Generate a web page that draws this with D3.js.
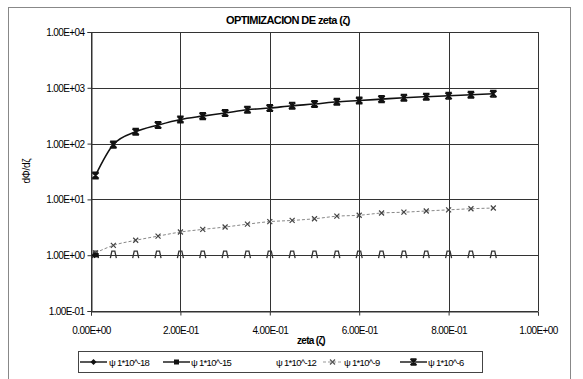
<!DOCTYPE html>
<html>
<head>
<meta charset="utf-8">
<script src="https://cdn.jsdelivr.net/npm/d3@7/dist/d3.min.js"></script>
<style>
  body { margin: 0; background: #fff; }
  svg { display: block; font-family: "Liberation Sans", Arial, sans-serif; }
  text { fill: #000; }
</style>
</head>
<body>
<svg id="chart" width="583" height="379"></svg>
<script>
// zeta values (x) shared by all series
const zeta = [0.01, 0.05, 0.1, 0.15, 0.2, 0.25, 0.3, 0.35, 0.4, 0.45,
              0.5, 0.55, 0.6, 0.65, 0.7, 0.75, 0.8, 0.85, 0.9];

// dPhi/dzeta for each psi
const psi1e6 = [26.8, 96, 163, 215, 271, 311, 353, 405, 434, 478,
                512, 562, 592, 627, 664, 693, 719, 750, 780];
const psi1e9 = [1.1, 1.5, 1.85, 2.2, 2.6, 2.9, 3.2, 3.6, 4.0, 4.2,
                4.5, 5.0, 5.2, 5.7, 5.9, 6.2, 6.5, 6.8, 7.0];
const psi1e12 = [1, 1, 1, 1, 1, 1, 1, 1, 1, 1, 1, 1, 1, 1, 1, 1, 1, 1, 1];
const psi1e15 = [1];
const psi1e18 = [1];

const xTicks = [0, 0.2, 0.4, 0.6, 0.8, 1.0];
const yTicks = [0.1, 1, 10, 100, 1000, 10000];
const seriesNames = ["ψ 1*10^-18", "ψ 1*10^-15", "ψ 1*10^-12", "ψ 1*10^-9", "ψ 1*10^-6"];

const svg = d3.select("#chart");
const plot = { left: 91, right: 538, top: 32, bottom: 311 };

const x = d3.scaleLinear().domain([0, 1]).range([plot.left, plot.right]);
const y = d3.scaleLog().domain([0.1, 10000]).range([plot.bottom, plot.top]);

const fmtE = v => {
  const s = v.toExponential(2).toUpperCase();   // e.g. 1.00E+4
  return s.replace(/E([+-])(\d)$/, "E$10$2");
};

// outer chart frame
svg.append("rect").attr("x", 8.5).attr("y", 7.5).attr("width", 562).attr("height", 380)
  .attr("fill", "none").attr("stroke", "#888").attr("stroke-width", 1);

// title
svg.append("text").attr("x", 288).attr("y", 24).attr("text-anchor", "middle")
  .attr("font-size", 11).attr("font-weight", "bold").attr("letter-spacing", -0.6)
  .text("OPTIMIZACION DE zeta (ζ)");

// gridlines
const grid = svg.append("g").attr("stroke", "#333").attr("stroke-width", 1);
grid.selectAll("line.h").data(yTicks).join("line")
  .attr("x1", plot.left).attr("x2", plot.right)
  .attr("y1", d => Math.round(y(d)) + 0.5).attr("y2", d => Math.round(y(d)) + 0.5);
grid.selectAll("line.v").data(xTicks).join("line")
  .attr("y1", plot.top).attr("y2", plot.bottom)
  .attr("x1", d => Math.round(x(d)) + 0.5).attr("x2", d => Math.round(x(d)) + 0.5);

// axes
const yAxis = d3.axisLeft(y).tickValues(yTicks).tickFormat(fmtE).tickSize(4).tickPadding(3);
const gy = svg.append("g").attr("transform", `translate(${plot.left + 0.5},0)`).call(yAxis);
const xAxis = d3.axisBottom(x).tickValues(xTicks).tickFormat(fmtE).tickSize(4).tickPadding(11);
const gx = svg.append("g").attr("transform", `translate(0,${plot.bottom + 0.5})`).call(xAxis);
[gx, gy].forEach(g => {
  g.selectAll("path, line").attr("stroke", "#333");
  g.selectAll("text").attr("font-size", 10).attr("letter-spacing", -0.6).attr("fill", "#000");
});
gy.selectAll("text").attr("dy", "0.35em");

// axis titles
svg.append("text").attr("x", 311).attr("y", 344).attr("text-anchor", "middle")
  .attr("font-size", 10).attr("font-weight", "bold").attr("letter-spacing", -0.7)
  .text("zeta (ζ)");
svg.append("text").attr("transform", "translate(30,171) rotate(-90)").attr("text-anchor", "middle")
  .attr("font-size", 10).attr("letter-spacing", -0.3).text("dΦ/dζ");

// marker shapes
function star(g, cx, cy, s) {
  g.append("path").attr("d",
      `M${cx - s},${cy - s}L${cx + s},${cy + s}M${cx + s},${cy - s}L${cx - s},${cy + s}` +
      `M${cx - s},${cy - s}H${cx + s}M${cx - s},${cy + s}H${cx + s}M${cx},${cy - s}V${cy + s}`)
    .attr("stroke", "#111").attr("stroke-width", 1.7).attr("fill", "none");
}
function cross(g, cx, cy, s, col) {
  g.append("path").attr("d",
      `M${cx - s},${cy - s}L${cx + s},${cy + s}M${cx + s},${cy - s}L${cx - s},${cy + s}`)
    .attr("stroke", col).attr("stroke-width", 1.2).attr("fill", "none");
}
function arch(g, cx, cy) {
  g.append("path").attr("d", `M${cx - 3},${cy + 3}L${cx - 1.5},${cy - 4}L${cx + 1.5},${cy - 4}L${cx + 3},${cy + 3}`)
    .attr("stroke", "#333").attr("stroke-width", 1.3).attr("fill", "none");
}
function diamond(g, cx, cy, s) {
  g.append("path").attr("d", `M${cx},${cy - s}L${cx + s},${cy}L${cx},${cy + s}L${cx - s},${cy}Z`).attr("fill", "#111");
}
function square(g, cx, cy, s) {
  g.append("rect").attr("x", cx - s).attr("y", cy - s).attr("width", 2 * s).attr("height", 2 * s).attr("fill", "#111");
}

const marks = svg.append("g");
const lineGen = vals => d3.line().curve(d3.curveMonotoneX)
  .x((d, i) => x(zeta[i])).y(d => y(d))(vals);

// psi = 1e-12: markers only
psi1e12.forEach((v, i) => arch(marks, x(zeta[i]), y(v)));

// psi = 1e-9: dashed grey line with x markers
marks.append("path").attr("d", lineGen(psi1e9)).attr("fill", "none")
  .attr("stroke", "#888").attr("stroke-width", 1).attr("stroke-dasharray", "3,2");
psi1e9.forEach((v, i) => cross(marks, x(zeta[i]), y(v), 2.5, "#444"));

// psi = 1e-18, 1e-15
psi1e18.forEach((v, i) => diamond(marks, x(zeta[i]) - 1, y(v), 3));
psi1e15.forEach((v, i) => square(marks, x(zeta[i]) + 1, y(v), 2.2));

// psi = 1e-6: solid black line with star markers
marks.append("path").attr("d", lineGen(psi1e6)).attr("fill", "none")
  .attr("stroke", "#111").attr("stroke-width", 1.6);
psi1e6.forEach((v, i) => star(marks, x(zeta[i]), y(v), 3.2));

// legend
const lg = svg.append("g");
lg.append("rect").attr("x", 78.5).attr("y", 351.5).attr("width", 404).attr("height", 21)
  .attr("fill", "#fff").attr("stroke", "#444");
const legLine = [[80, 107], [163, 190], null, [323, 342], [400, 427]];
const legText = [108, 190, 275, 343, 427];
const ly = 362;
seriesNames.forEach((name, i) => {
  const g = lg.append("g");
  const seg = legLine[i];
  if (seg) {
    const mid = (seg[0] + seg[1]) / 2;
    if (i === 3) {
      g.append("line").attr("x1", seg[0]).attr("x2", seg[1]).attr("y1", ly).attr("y2", ly)
        .attr("stroke", "#999").attr("stroke-width", 1).attr("stroke-dasharray", "3,2");
      cross(g, mid, ly, 2.5, "#555");
    } else {
      g.append("line").attr("x1", seg[0]).attr("x2", seg[1]).attr("y1", ly).attr("y2", ly)
        .attr("stroke", "#111").attr("stroke-width", 1.4);
      if (i === 0) diamond(g, mid, ly, 3);
      if (i === 1) square(g, mid, ly, 2.5);
      if (i === 4) star(g, mid, ly, 3);
    }
  }
  g.append("text").attr("x", legText[i] + 1).attr("y", ly + 3.5).attr("font-size", 9.5)
    .attr("letter-spacing", -0.7).text(name);
});
</script>
</body>
</html>
